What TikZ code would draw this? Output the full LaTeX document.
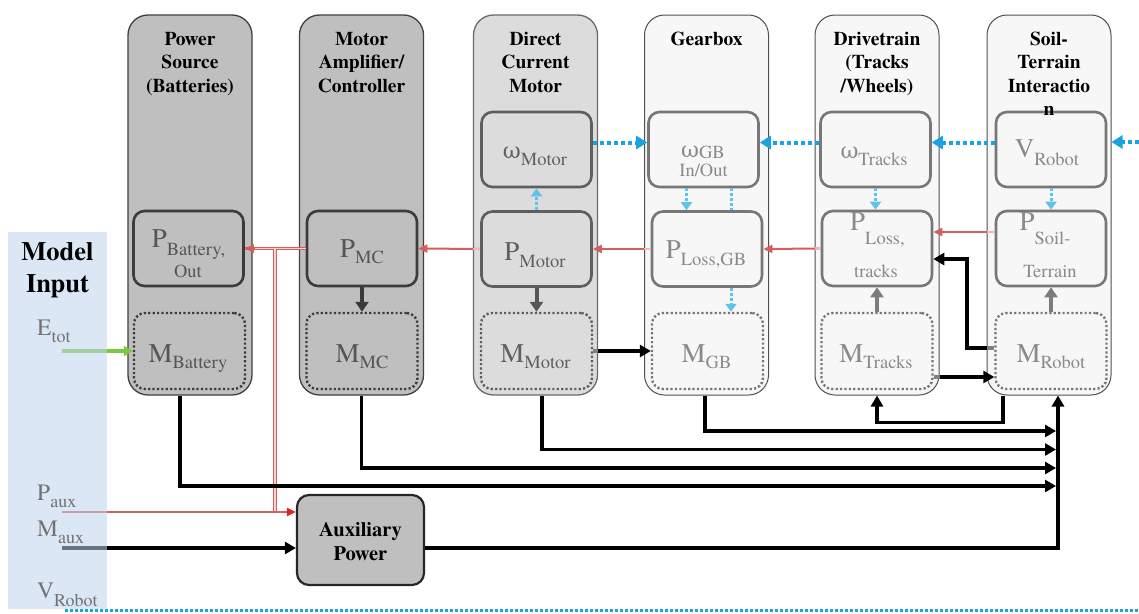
\documentclass[tikz,border=0pt]{standalone}
\usepackage{fontspec}
\setmainfont{texgyretermes}[Extension=.otf, UprightFont=*-regular, BoldFont=*-bold, ItalicFont=*-italic, BoldItalicFont=*-bolditalic]
\newfontfamily\dvs{DejaVu Serif}
\usetikzlibrary{arrows.meta,calc}
\definecolor{fAB}{HTML}{BFBFBF}
\definecolor{fC}{HTML}{DCDCDC}
\definecolor{fD}{HTML}{F7F7F7}
\definecolor{bAB}{HTML}{404040}
\definecolor{bC}{HTML}{6A6A6A}
\definecolor{bD}{HTML}{505050}
\definecolor{iAB}{HTML}{3C3C3C}
\definecolor{iC}{HTML}{5E5E5E}
\definecolor{iD}{HTML}{777777}
\definecolor{tAB}{HTML}{555555}
\definecolor{tC}{HTML}{606060}
\definecolor{tD}{HTML}{8A8A8A}
\definecolor{tL}{HTML}{727272}
\definecolor{panelc}{HTML}{C1D5ED}
\definecolor{redl}{HTML}{D45E5E}
\definecolor{redt}{HTML}{E42222}
\definecolor{pinkl}{HTML}{EEB8B8}
\definecolor{pinkd}{HTML}{F4D4D4}
\definecolor{blued}{HTML}{1CA2E2}
\definecolor{bluel}{HTML}{5EC4EE}
\definecolor{greenl}{HTML}{7CC940}
\definecolor{gA}{HTML}{3A3A3A}
\definecolor{gB}{HTML}{555555}
\definecolor{gC}{HTML}{7C7C7C}
\definecolor{gfade}{HTML}{808080}
\newcommand\ms[3][7pt]{{\fontsize{27}{27}\selectfont #2}\raisebox{-#1}{\fontsize{18.5}{18.5}\selectfont #3}}
\newcommand\ls[3][7pt]{{\fontsize{23.5}{23.5}\selectfont #2}\raisebox{-#1}{\fontsize{18}{18}\selectfont #3}}
\newcommand\sbt[1]{{\fontsize{18.5}{18.5}\selectfont #1}}
\newcommand\om{{\dvs\fontsize{22}{22}\selectfont ω}}
\begin{document}
\begin{tikzpicture}[x=1pt,y=-1pt,
  colbox/.style={line width=1.3pt, rounded corners=20pt, minimum width=124pt, minimum height=380pt, inner sep=0pt},
  colAB/.style={colbox, draw=bAB, fill=fAB},
  colC/.style={colbox, draw=bC, fill=fC},
  colD/.style={colbox, draw=bD, fill=fD, line width=1pt},
  ib/.style={line width=2.6pt, rounded corners=11pt, minimum width=110pt, minimum height=75pt, inner sep=0pt},
  ibAB/.style={ib, draw=iAB, fill=fAB},
  ibC/.style={ib, draw=iC, fill=fC},
  ibD/.style={ib, draw=iD, fill=fD},
  dotb/.style={dash pattern=on 2.2pt off 2.2pt, line width=2.4pt, minimum width=111pt, minimum height=76pt},
  ttl/.style={font=\fontsize{19.5}{23.5}\selectfont\bfseries, align=center, anchor=north, inner sep=0pt},
  tx/.style={anchor=base, inner sep=0pt},
  lab/.style={anchor=base west, inner sep=0pt, text=tL},
  blk/.style={line width=3.5pt, black},
  bar/.style={blk, -{Triangle[length=11pt,width=12pt]}},
  gar/.style={line width=4pt, -{Triangle[length=10pt,width=13pt]}},
  rar/.style={redl, line width=2pt, -{Triangle[length=9pt,width=8pt]}},
  rfade/.style={pinkl, line width=2.4pt},
  gfd/.style={gfade, line width=3.9pt},
  rdbl/.style={draw=redl, double=pinkd, line width=1.1pt, double distance=1.6pt},
  bd/.style={blued, line width=4pt, dash pattern=on 4pt off 3pt, -{Triangle[length=11pt,width=13pt]}},
  bv/.style={bluel, line width=3pt, dash pattern=on 3pt off 2pt, -{Triangle[length=8pt,width=11pt]}},
  bvn/.style={bluel, line width=3pt, dash pattern=on 3pt off 2pt},
]
\useasboundingbox (0,0) rectangle (1139,613);
\fill[white] (0,0) rectangle (1139,613);

% columns
\node[colAB] (c1) at (190,205) {};
\node[colAB] (c2) at (361.5,205) {};
\node[colC] (c3) at (535.5,205) {};
\node[colD] (c4) at (706.5,205) {};
\node[colD] (c5) at (877,205) {};
\node[colD] (c6) at (1049,205) {};

% inner boxes
\node[ibAB] (pbat) at (188.5,248.5) {};
\node[ibAB] (pmc) at (362,248.5) {};
\node[ibAB,dotb] (mbat) at (189.5,351) {};
\node[ibAB,dotb] (mmc) at (362,351) {};
\node[ibC] (omot) at (536.5,149.5) {};
\node[ibC] (pmot) at (536.5,249) {};
\node[ibC,dotb] (mmot) at (536.5,351) {};
\node[ibD] (ogb) at (703.5,149.5) {};
\node[ibD] (plgb) at (707,249) {};
\node[ibD,dotb] (mgb) at (707.5,351) {};
\node[ibD] (otr) at (875.5,149.5) {};
\node[ibD] (pltr) at (877,248.5) {};
\node[ibD,dotb] (mtr) at (877,351) {};
\node[ibD] (vrob) at (1051,149.5) {};
\node[ibD] (psoil) at (1051,248.5) {};
\node[ibD,dotb] (mrob) at (1051,351) {};

% auxiliary power
\node[draw=black!85, fill=fAB, line width=2.2pt, rounded corners=12pt, minimum width=127pt, minimum height=90pt, inner sep=0pt] (aux) at (360.5,540) {};
\node[ttl, font=\fontsize{20.5}{24}\selectfont\bfseries] (auxt) at (360.5,522) {\rule{0pt}{14pt}Auxiliary\\Power};

% box texts
\node[tx,text=tAB] (tpb1) at (188.5,247) {\ms[8pt]{P}{Battery,}};
\node[tx,text=tAB] (tpb2) at (188,277) {\sbt{Out}};
\node[tx,text=tAB] (tpmc) at (362,257) {\ms[6pt]{P}{MC}};
\node[tx,text=tAB] (tmb) at (188,362) {\ms[6pt]{M}{Battery}};
\node[tx,text=tAB] (tmmc) at (362,362) {\ms[6pt]{M}{MC}};
\node[tx,text=tC] (tom) at (535,158) {\ms{\om}{Motor}};
\node[tx,text=tC] (tpm) at (535,260) {\ms{P}{Motor}};
\node[tx,text=tC] (tmm) at (535.5,362) {\ms[6pt]{M}{Motor}};
\node[tx,text=tD] (tog1) at (703,157) {\ms[1pt]{\om}{GB}};
\node[tx,text=tD] (tog2) at (703.5,176) {\sbt{In/Out}};
\node[tx,text=tD] (tpg) at (706,258) {\ms{P}{Loss,GB}};
\node[tx,text=tD] (tmg) at (706.5,362) {\ms[6pt]{M}{GB}};
\node[tx,text=tD] (tot) at (874,158) {\ms{\om}{Tracks}};
\node[tx,text=tD] (tpt1) at (877.5,230) {\ms[14pt]{P}{Loss,}};
\node[tx,text=tD] (tpt2) at (876,277) {\sbt{tracks}};
\node[tx,text=tD] (tmt) at (876,362) {\ms[6pt]{M}{Tracks}};
\node[tx,text=tD] (tvr) at (1047,157) {\ms[8pt]{V}{Robot}};
\node[tx,text=tD] (tps1) at (1045,230) {\ms[14pt]{P}{Soil-}};
\node[tx,text=tD] (tps2) at (1050,277) {\sbt{Terrain}};
\node[tx,text=tD] (tmr) at (1051,362) {\ms[6pt]{M}{Robot}};

% coordinates
\coordinate (rj) at ($(pbat.east)!0.5!(pmc.west)$);
\coordinate (pas) at (62,512);
\coordinate (mas) at (62,548);
\coordinate (gs) at (62,351);
\coordinate (busb) at (1058,548);
\coordinate (e1) at (1056,431);
\coordinate (e2) at (1056,449.5);
\coordinate (e3) at (1056,468);
\coordinate (e4) at (1056,486);
\coordinate (k1) at (967,259);
\coordinate (vin) at (1139,142);
\coordinate (vs) at (65,610.5);
\coordinate (ve) at (1139,610.5);
\coordinate (ps1) at ($(psoil.west)+(0,-16.5)$);
\coordinate (mrw) at ($(mrob.west)+(0,-3)$);
\coordinate (mte) at ($(mtr.east)+(0,26)$);

% gray vertical arrows
\draw[gar, gA] (pmc.south) -- (mmc.north);
\draw[gar, gB] (pmot.south) -- (mmot.north);
\draw[gar, gC] (mtr.north) -- (pltr.south);
\draw[gar, gC] (mrob.north) -- (psoil.south);

% light blue vertical arrows
\draw[bv] (pmot.north) -- (omot.south);
\draw[bv] ($(ogb.south)+(-17,0)$) -- ($(plgb.north)+(-20.5,0)$);
\draw[bvn] ($(ogb.south)+(27.5,0)$) -- ($(plgb.north)+(24,0)$);
\draw[bv] ($(plgb.south)+(24,0)$) -- ($(mgb.north)+(23.5,0)$);
\draw[bv] (otr.south) -- (otr.south |- pltr.north);
\draw[bv] (vrob.south) -- (psoil.north);

% blue dotted horizontal arrows
\draw[bd] ($(omot.east)+(0,-7)$) -- ($(ogb.west)+(0,-7)$);
\draw[bd] ($(otr.west)+(0,-7)$) -- ($(ogb.east)+(0,-7)$);
\draw[bd] ($(vrob.west)+(0,-7)$) -- ($(otr.east)+(0,-7)$);
\draw[bd] (vin) -- (vin -| c6.east);

% red power arrows
\draw[rar] (pmot.west) -- (pmc.east);
\draw[rar] (plgb.west) -- (pmot.east);
\draw[rar] (pltr.west) -- (plgb.east);
\draw[rar] (ps1) -- (ps1 -| pltr.east);
\draw[rfade] (pmot.west) -- (pmot.west -| c3.west);
\draw[rfade] (plgb.west) -- (plgb.west -| c4.west);
\draw[rfade] (pltr.west) -- (pltr.west -| c5.west);
\draw[rfade] (ps1) -- (ps1 -| c6.west);
\draw[rdbl] (pmc.west) -- (pbat.east);
\draw[rdbl] (rj) -- (rj |- pas);
\draw[rar] ($(pbat.east)+(10,0)$) -- (pbat.east);
\draw[redl, line width=2pt, -{Triangle[length=9pt,width=8pt,color=redt]}] (pas) -- (pas -| aux.west);

% black mass arrows
\draw[bar] (mmot.east) -- (mgb.west);
\draw[gfd] (mmot.east) -- (mmot.east -| c3.east);
\draw[bar] (mte) -- (mte -| mrob.west);
\draw[gfd] (mte) -- (mte -| c5.east);
\draw[bar] (mrw) -| (k1) -- (k1 -| pltr.east);
\draw[gfd] (mrw) -- (mrw -| c6.west);
\draw[bar] ($(c6.south)+(-46,0)$) -- ++(0,27) -| (c5.south);
\draw[bar] ($(c1.south)+(-10,0)$) |- (e4);
\draw[bar] (c2.south) |- (e3);
\draw[bar] ($(c3.south)+(6.5,0)$) |- (e2);
\draw[bar] ($(c4.south)+(-1.5,0)$) |- (e1);
\draw[bar] (mas) -- (mas -| aux.west);
\draw[bar] (mas -| aux.east) -- (busb) -- (busb |- c6.south);

% model input
\draw[greenl, line width=3.5pt, -{Triangle[length=9pt,width=10pt]}] (gs) -- (mbat.west);
\node[fill=panelc, fill opacity=0.55, minimum width=99pt, minimum height=377pt, inner sep=0pt, anchor=north west] (panel) at (8,232) {};
\node[ttl, font=\fontsize{26.5}{32}\selectfont\bfseries] (mi) at (57.5,242) {\rule{0pt}{17pt}Model\\Input};
\node[lab] (let) at (37,335) {\ls{E}{tot}};
\node[lab] (lpa) at (37,500) {\ls{P}{aux}};
\node[lab] (lma) at (37,536) {\ls{M}{aux}};
\node[lab] (lvr) at (37,598) {\ls[8pt]{V}{Robot}};
\draw[blued, line width=3pt, dash pattern=on 3pt off 2pt] (vs) -- (ve);

% titles
\node[ttl] (t1) at (190,30) {\rule{0pt}{15pt}Power\\Source\\(Batteries)};
\node[ttl] (t2) at (361.5,30) {\rule{0pt}{15pt}Motor\\Amplifier/\\Controller};
\node[ttl] (t3) at (535.5,30) {\rule{0pt}{15pt}Direct\\Current\\Motor};
\node[ttl] (t4) at (706.5,30) {\rule{0pt}{15pt}Gearbox};
\node[ttl] (t5) at (877,30) {\rule{0pt}{15pt}Drivetrain\\(Tracks\\/Wheels)};
\node[ttl] (t6) at (1049,30) {\rule{0pt}{15pt}Soil-\\Terrain\\Interactio\\n};
\end{tikzpicture}
\end{document}
